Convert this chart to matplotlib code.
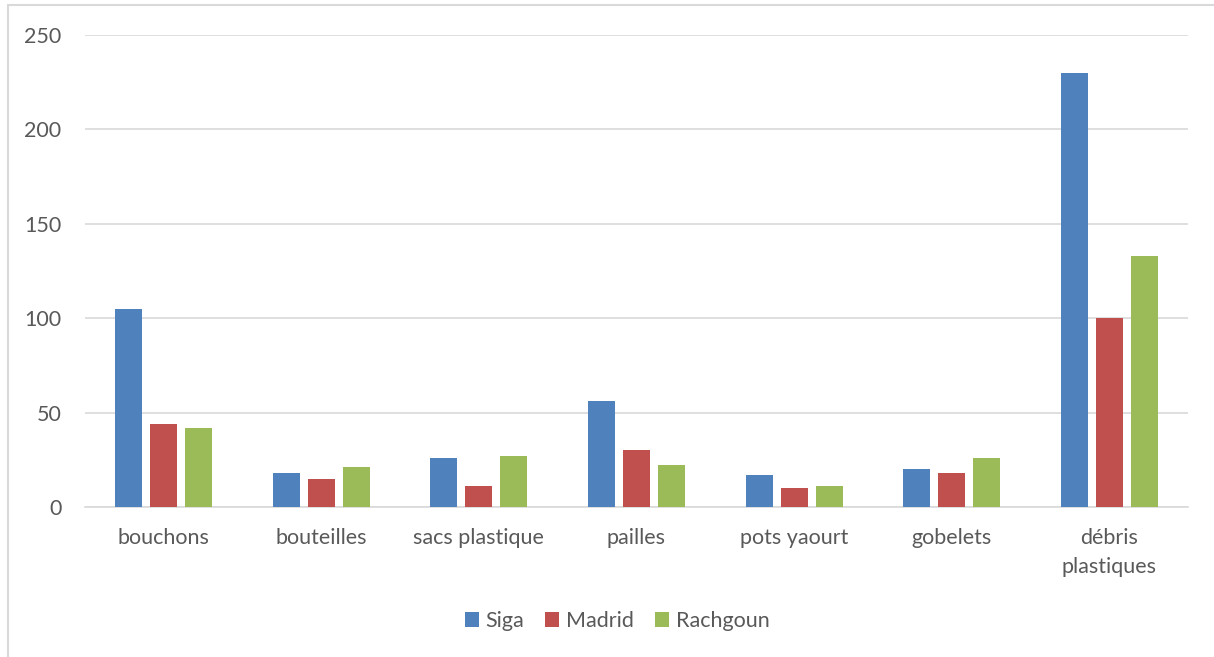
import matplotlib
matplotlib.use("Agg")
import matplotlib.pyplot as plt
import numpy as np
from matplotlib.patches import Rectangle

categories = ["bouchons", "bouteilles", "sacs plastique", "pailles", "pots yaourt", "gobelets", "débris\nplastiques"]
siga = [105, 18, 26, 56, 17, 20, 230]
madrid = [44, 15, 11, 30, 10, 18, 100]
rachgoun = [42, 21, 27, 22, 11, 26, 133]
series_names = ["Siga", "Madrid", "Rachgoun"]
colors = ["#4F81BD", "#C0504D", "#9BBB59"]
yticks = [0, 50, 100, 150, 200, 250]

plt.rcParams['font.family'] = ['Lato', 'DejaVu Sans']
W, H = 1214, 657
fig = plt.figure(figsize=(W/100, H/100), dpi=100)
ax = fig.add_axes([85/W, 1-507/H, (1188-85)/W, (507-35)/H])

x = np.arange(len(categories))
step = 0.222
width = 0.171
for i, (vals, name, c) in enumerate(zip([siga, madrid, rachgoun], series_names, colors)):
    ax.bar(x + (i-1)*step, vals, width, color=c, label=name, zorder=3)

ax.set_xlim(-0.5, len(categories)-0.5)
ax.set_ylim(0, 250)
ax.set_yticks(yticks)
ax.set_xticks(x)
ax.set_xticklabels(categories, fontsize=15.5, color="#595959", linespacing=1.6)
ax.tick_params(axis='y', labelsize=15.5, labelcolor="#595959", length=0, pad=17)
ax.tick_params(axis='x', length=0, pad=15)
ax.grid(axis='y', color="#D9D9D9", linewidth=1.2, zorder=0)
for s in ["top", "right", "left"]:
    ax.spines[s].set_visible(False)
ax.spines["bottom"].set_color("#D9D9D9")
ax.spines["bottom"].set_linewidth(1.2)

fig.legend(loc="center", bbox_to_anchor=(617/W, 1-621/H), ncol=3, frameon=False,
           fontsize=15.5, labelcolor="#595959", handlelength=0.65, handleheight=0.7,
           handletextpad=0.3, columnspacing=1.0)

fig.patches.append(Rectangle((8/W, -0.1), 1.2, 1-5/H+0.1, transform=fig.transFigure,
                             fill=False, edgecolor="#D9D9D9", linewidth=1.5))
fig.savefig("out.png", dpi=100)
